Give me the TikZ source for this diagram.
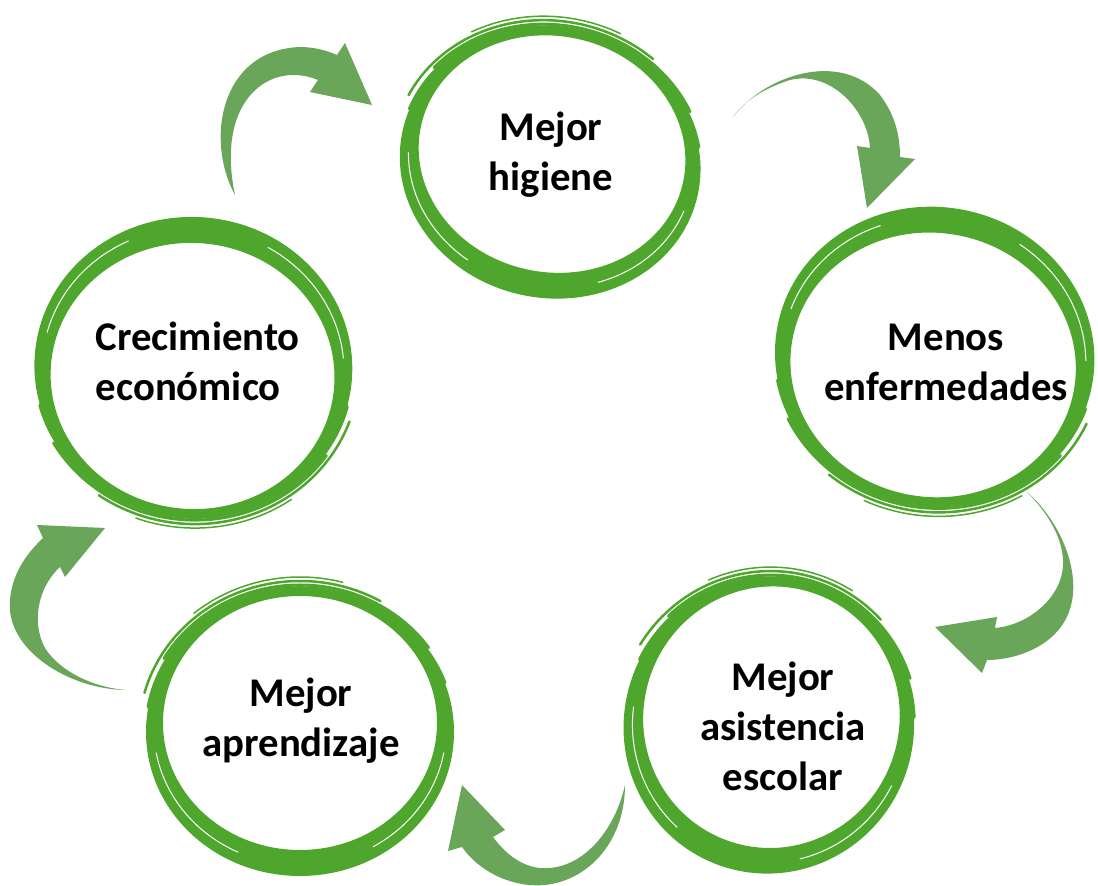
\documentclass[tikz,border=0pt]{standalone}
\usepackage{fontspec}
\setmainfont{Carlito}
\definecolor{ringgreen}{RGB}{78,166,45}
\definecolor{arrowgreen}{RGB}{106,166,89}

\begin{document}
\begin{tikzpicture}[x=0.1mm, y=-0.1mm,
    txt/.style={font=\fontsize{11.6pt}{14.2pt}\selectfont\bfseries, align=center, inner sep=0pt},
    brush/.style={draw=ringgreen, line cap=round},
    flow/.style={fill=arrowgreen}]
  \useasboundingbox (0,0) rectangle (1098,886);

  % brush rings: centre x / centre y / outer radii / turn
  \foreach \cx/\cy/\rx/\ry/\rot in {551/159/151/135/-12, 934/360/160/149/170,
      770/722/145/148/-17, 300/728/154/144/0, 193/371/159/150/175}{
    \begin{scope}[shift={(\cx,\cy)}, rotate=\rot, yscale=-1]
      \fill[ringgreen, even odd rule] (0,-4) ellipse[x radius=\rx, y radius=\ry]
        (0,5) ellipse[x radius={\rx-17}, y radius={\ry-17}];
      \foreach \d/\a/\b/\w in {3/150/35/0.3, 7/165/60/0.25, 0/170/20/0.35, 11/130/75/0.15}
        \draw[brush, line width=\w mm] ({(\rx+\d)*cos(\a)},{(\ry+\d)*sin(\a)-4})
          arc[start angle=\a, end angle=\b, x radius={\rx+\d}, y radius={\ry+\d}];
      \foreach \a/\b in {190/245, 300/350}
        \draw[white, line width=0.1mm] ({(\rx-8)*cos(\a)},{(\ry-8)*sin(\a)-1})
          arc[start angle=\a, end angle=\b, x radius={\rx-8}, y radius={\ry-8}];
    \end{scope}
  }

  \node[txt] (hig) at (551,155) {Mejor\\higiene};
  \node[txt] (men) at (946,362) {Menos\\enfermedades};
  \node[txt] (asi) at (783,726) {Mejor\\asistencia\\escolar};
  \node[txt] (apr) at (301,721) {Mejor\\aprendizaje};
  \node[txt, align=left, anchor=west] (cre) at (95,361) {Crecimiento\\econ\'omico};

  % curved arrows between the rings
  \fill[flow] (235,195) .. controls (205,140) and (220,50) .. (300,47)
    .. controls (315,47) and (328,51) .. (337,55) -- (345,43) -- (372,105)
    -- (310,92) -- (318,80) .. controls (270,60) and (215,100) .. (235,195);
  \fill[flow] (733,117) .. controls (765,75) and (840,50) .. (880,95)
    .. controls (895,115) and (900,135) .. (900,157) -- (915,159) -- (867,208)
    -- (857,146) -- (870,148) .. controls (868,110) and (830,70) .. (790,80)
    .. controls (765,88) and (745,100) .. (733,117);
  \fill[flow] (1027,492) .. controls (1065,525) and (1090,590) .. (1060,628)
    .. controls (1045,648) and (1015,660) .. (987,660) -- (982,673) -- (935,627)
    -- (997,617) -- (995,628) .. controls (1030,625) and (1065,595) .. (1063,560)
    .. controls (1062,535) and (1045,510) .. (1027,492);
  \fill[flow] (625,785) .. controls (625,840) and (590,880) .. (545,885)
    .. controls (510,888) and (478,870) .. (462,847) -- (448,851) -- (462,785)
    -- (505,830) -- (493,837) .. controls (510,860) and (530,870) .. (550,868)
    .. controls (585,865) and (615,830) .. (625,785);
  \fill[flow] (127,690) .. controls (70,690) and (5,650) .. (10,600)
    .. controls (12,575) and (25,555) .. (43,538) -- (37,525) -- (105,528)
    -- (65,577) -- (60,567) .. controls (40,585) and (30,620) .. (45,648)
    .. controls (60,672) and (95,688) .. (127,690);
\end{tikzpicture}
\end{document}
